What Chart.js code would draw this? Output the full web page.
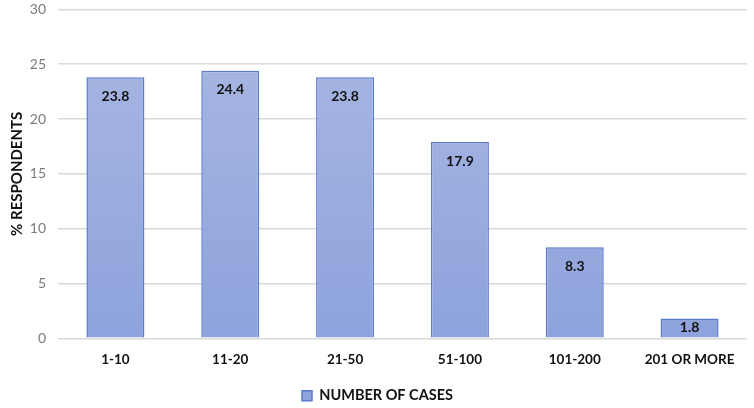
<!DOCTYPE html>
<html>
<head>
<meta charset="utf-8">
<script src="https://cdn.jsdelivr.net/npm/chart.js@4"></script>
<style>
  html, body { margin: 0; padding: 0; background: #fff; }
  #wrap { width: 754px; height: 408px; }
</style>
</head>
<body>
<div id="wrap"><canvas id="chart" width="754" height="408"></canvas></div>
<script>
// categories and values
const categories = ['1-10', '11-20', '21-50', '51-100', '101-200', '201 OR MORE'];
const respondents = [23.8, 24.4, 23.8, 17.9, 8.3, 1.8];
const yTicks = [0, 5, 10, 15, 20, 25, 30];

const FONT = 'Lato, "Open Sans", sans-serif';

// value labels drawn just under the top of each bar
const barLabels = {
  id: 'barLabels',
  afterDatasetsDraw(chart) {
    const ctx = chart.ctx;
    const meta = chart.getDatasetMeta(0);
    ctx.save();
    ctx.font = 'bold 14px ' + FONT;
    ctx.fillStyle = '#111';
    ctx.textAlign = 'center';
    ctx.textBaseline = 'middle';
    meta.data.forEach((bar, i) => {
      const h = bar.base - bar.y;
      const off = Math.min(19, h / 2 - 1);
      ctx.fillText(respondents[i].toFixed(1), bar.x, bar.y + off);
    });
    ctx.restore();
  }
};

function barFill(context) {
  const area = context.chart.chartArea;
  if (!area) return '#9cafe0';
  const g = context.chart.ctx.createLinearGradient(0, area.top, 0, area.bottom);
  g.addColorStop(0, '#aab8e2');
  g.addColorStop(1, '#8ea3dd');
  return g;
}

new Chart(document.getElementById('chart'), {
  type: 'bar',
  data: {
    labels: categories,
    datasets: [{
      label: 'NUMBER OF CASES',
      data: respondents,
      backgroundColor: barFill,
      borderColor: '#5a7bcc',
      borderWidth: 1.5,
      categoryPercentage: 1.0,
      barPercentage: 0.505
    }]
  },
  options: {
    responsive: false,
    animation: false,
    layout: { padding: { left: 8, right: 7, top: 1, bottom: -5 } },
    scales: {
      x: {
        grid: { display: false },
        border: { display: false },
        ticks: {
          color: '#111',
          font: { family: FONT, size: 13.5, weight: 'bold' },
          padding: 5,
          maxRotation: 0
        }
      },
      y: {
        min: 0,
        max: 30,
        afterBuildTicks(scale) { scale.ticks = yTicks.map(v => ({ value: v })); },
        afterFit(scale) { scale.width = 50; },
        grid: { color: '#d9d9d9', lineWidth: 1.5, drawTicks: true, tickLength: 11, tickColor: 'rgba(0,0,0,0)' },
        border: { display: false },
        ticks: {
          color: '#7a7a7a',
          font: { family: FONT, size: 14 },
          padding: 1
        },
        title: {
          display: true,
          text: '% RESPONDENTS',
          color: '#111',
          font: { family: FONT, size: 15, weight: 'bold' },
          padding: { top: 0, bottom: 0 }
        }
      }
    },
    plugins: {
      legend: {
        position: 'bottom',
        labels: {
          color: '#111',
          boxWidth: 10,
          boxHeight: 10,
          padding: 16,
          font: { family: FONT, size: 14.5, weight: 'bold' }
        }
      },
      tooltip: { enabled: false }
    }
  },
  plugins: [barLabels]
});
</script>
</body>
</html>
